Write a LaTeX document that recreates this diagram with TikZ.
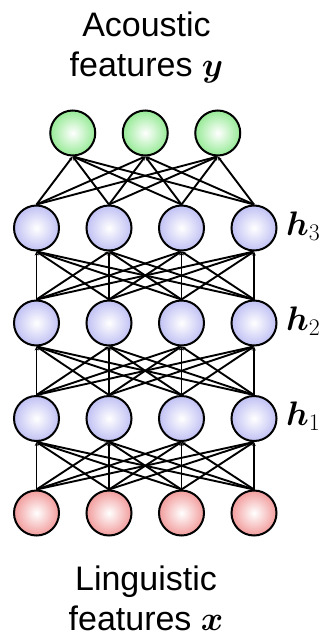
\RequirePackage{fix-cm}
\documentclass[tikz,border=0pt]{standalone}
\usepackage{amsmath}
\usepackage[no-math]{fontspec}
\setmainfont{Liberation Sans}
\usetikzlibrary{arrows.meta}
\definecolor{hidc}{RGB}{192,192,244}
\definecolor{outc}{RGB}{150,234,150}
\definecolor{inc}{RGB}{242,156,156}
\tikzset{
  neuron/.style={circle, draw=black, line width=2pt, minimum size=45pt, inner sep=0pt, inner color=white},
  hid/.style={neuron, outer color=hidc},
  outn/.style={neuron, outer color=outc},
  inn/.style={neuron, outer color=inc},
  conn/.style={line width=1.9pt, -{Stealth[length=4pt,width=3.5pt]}},
  lbl/.style={align=center, font=\fontsize{34}{40}\selectfont},
  hlbl/.style={anchor=base west, inner sep=0pt, font=\fontsize{34}{40}\selectfont}
}
\begin{document}
\begin{tikzpicture}[x=1pt,y=-1pt]
\useasboundingbox (0,0) rectangle (328,637);
\foreach \i/\x in {1/36.5,2/109,3/181.5,4/254} {
  \node[inn] (x\i) at (\x,513) {};
  \node[hid] (a\i) at (\x,418.5) {};
  \node[hid] (b\i) at (\x,323) {};
  \node[hid] (c\i) at (\x,228) {};
}
\foreach \i/\x in {1/72.75,2/145.25,3/217.75} {
  \node[outn] (y\i) at (\x,133) {};
}
\foreach \i in {1,...,4} {
  \foreach \j in {1,...,4} {
    \draw[conn] (x\i.north) -- (a\j.south);
    \draw[conn] (a\i.north) -- (b\j.south);
    \draw[conn] (b\i.north) -- (c\j.south);
  }
  \foreach \j in {1,...,3} {
    \draw[conn] (c\i.north) -- (y\j.south);
  }
}
\node[hlbl] (h3) at (286,235) {$\boldsymbol{h}_3$};
\node[hlbl] (h2) at (286,330) {$\boldsymbol{h}_2$};
\node[hlbl] (h1) at (286,425.5) {$\boldsymbol{h}_1$};
\node[lbl, anchor=base] (top) at (146.5,76) {Acoustic\\features $\boldsymbol{y}$};
\node[lbl, anchor=base] (bot) at (146,630) {Linguistic\\features $\boldsymbol{x}$};
\end{tikzpicture}
\end{document}
